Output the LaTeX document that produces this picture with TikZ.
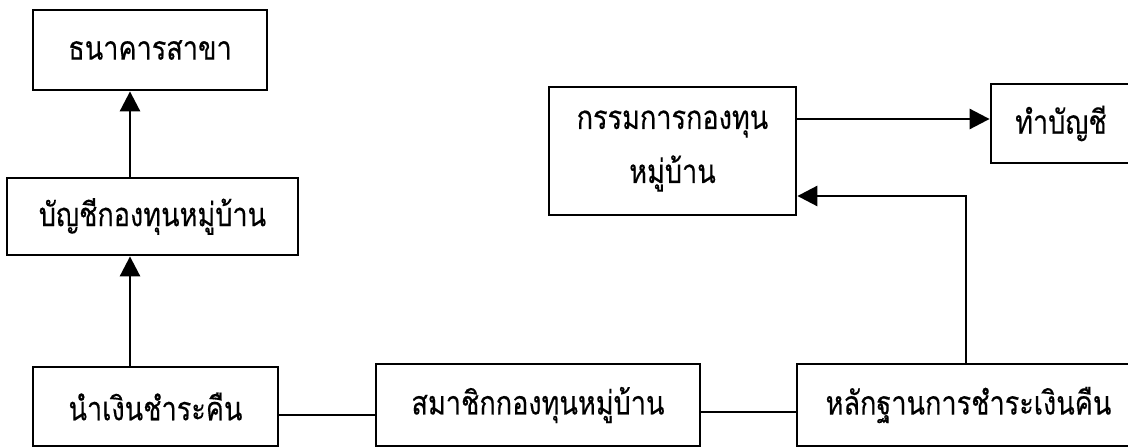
\documentclass[tikz,border=0pt]{standalone}
\usepackage{fontspec}
\newfontfamily\thaifont[Script=Thai,FakeStretch=0.82,FakeBold=0.3]{Loma}
\usetikzlibrary{arrows.meta}

\begin{document}
\begin{tikzpicture}[x=1pt,y=-1pt,
    box/.style={draw,line width=2.8pt,inner sep=0pt,align=center,
      font=\thaifont\fontsize{33}{54}\selectfont},
    arr/.style={-{Triangle[length=20pt,width=20pt]},line width=2.8pt}]
      \clip (0,0) rectangle (1128,447);
      \node [box,minimum width=234,minimum height=80] (1) at (150,50) {ธนาคารสาขา};
      \node [box,minimum width=291,minimum height=77] (2) at (152.5,216.5) {บัญชีกองทุนหมู่บ้าน};
      \node [box,minimum width=245,minimum height=79] (3) at (155.5,406.5) {นำเงินชำระคืน};
      \node [box,minimum width=324,minimum height=82] (4) at (538,405) {สมาชิกกองทุนหมู่บ้าน};
      \node [box,minimum width=343,minimum height=82] (5) at (968.5,405) {หลักฐานการชำระเงินคืน};
      \node [box,minimum width=247,minimum height=128] (6) at (672.5,151) {กรรมการกองทุน\\หมู่บ้าน};
      \node [box,minimum width=140,minimum height=79] (7) at (1061,123.5) {ทำบัญชี};

      \coordinate (c) at (130,0);
      \coordinate (l1) at (0,415);
      \coordinate (l2) at (0,412);
      \coordinate (r1) at (0,119);
      \coordinate (r2) at (966,196);

      \draw[arr] (3.north -| c) -- (2.south -| c);
      \draw[arr] (2.north -| c) -- (1.south -| c);
      \draw[line width=2.8pt] (3.east |- l1) -- (4.west |- l1);
      \draw[line width=2.8pt] (4.east |- l2) -- (5.west |- l2);
      \draw[arr] (6.east |- r1) -- (7.west |- r1);
      \draw[arr] (5.north -| r2) |- (6.east |- r2);
    \end{tikzpicture}
\end{document}
